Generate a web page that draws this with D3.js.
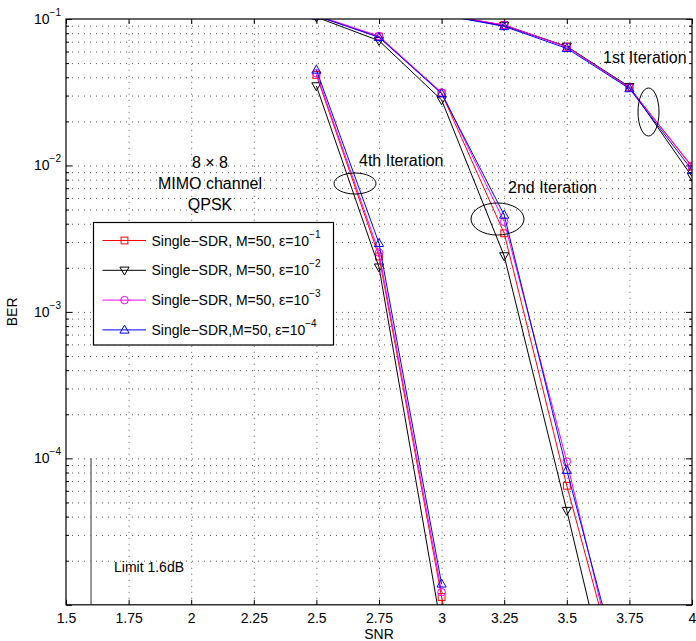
<!DOCTYPE html>
<html>
<head>
<meta charset="utf-8">
<script src="https://cdn.jsdelivr.net/npm/d3@7/dist/d3.min.js"></script>
<style>
  body { margin: 0; background: #fff; }
  svg { display: block; font-family: "Liberation Sans", Arial, sans-serif; }
</style>
</head>
<body>
<script>
// SNR grid where the simulations were run
var snr = [2.5, 2.75, 3, 3.25, 3.5, 3.75, 4];

// BER per iteration, one array per epsilon (null = no point)
var iter1_e1 = [null, null, 0.107, 0.091, 0.0647, 0.034, 0.0098];
var iter1_e2 = [null, null, 0.107, 0.090, 0.0650, 0.0345, 0.0084];
var iter1_e3 = [null, null, 0.107, 0.091, 0.0645, 0.034, 0.0099];
var iter1_e4 = [null, null, 0.107, 0.089, 0.0630, 0.0335, 0.0093];

var iter2_e1 = [0.105, 0.0757, 0.0311, 0.00344, 6.5e-5, 1.7e-6, null];
var iter2_e2 = [0.103, 0.0711, 0.0280, 0.00241, 4.4e-5, 7e-7, null];
var iter2_e3 = [0.106, 0.0765, 0.0315, 0.00413, 9.5e-5, 1.55e-6, null];
var iter2_e4 = [0.105, 0.0750, 0.0310, 0.00459, 8.3e-5, 2e-6, null];

var iter4_e1 = [0.0415, 0.00239, 1.13e-5, 1e-7, null, null, null];
var iter4_e2 = [0.0349, 0.00202, 6.8e-6, null, null, null, null];
var iter4_e3 = [0.0426, 0.00254, 1.22e-5, null, null, null, null];
var iter4_e4 = [0.0449, 0.00294, 1.39e-5, null, null, null, null];

var legendText = ["Single\u2212SDR, M=50, \u03b5=10", "Single\u2212SDR, M=50, \u03b5=10",
                  "Single\u2212SDR, M=50, \u03b5=10", "Single\u2212SDR,M=50, \u03b5=10"];
var legendExp = ["\u22121", "\u22122", "\u22123", "\u22124"];

var xTicks = [1.5, 1.75, 2, 2.25, 2.5, 2.75, 3, 3.25, 3.5, 3.75, 4];
var yMajor = [1e-5, 1e-4, 1e-3, 1e-2, 1e-1];
var yLabels = [[1e-4, "\u22124"], [1e-3, "\u22123"], [1e-2, "\u22122"], [1e-1, "\u22121"]];

var series = [
  {color: "#ff0000", marker: "square",   lines: [iter1_e1, iter2_e1, iter4_e1]},
  {color: "#000000", marker: "down",     lines: [iter1_e2, iter2_e2, iter4_e2]},
  {color: "#ff00ff", marker: "circle",   lines: [iter1_e3, iter2_e3, iter4_e3]},
  {color: "#0000ff", marker: "up",       lines: [iter1_e4, iter2_e4, iter4_e4]}
];

var outerWidth = 696, outerHeight = 641;
var margin = {top: 19, right: 4, bottom: 36.2, left: 66};
var width = outerWidth - margin.left - margin.right,
    height = outerHeight - margin.top - margin.bottom;

var svg = d3.select("body").append("svg")
    .attr("width", outerWidth)
    .attr("height", outerHeight);

var g = svg.append("g")
    .attr("transform", "translate(" + margin.left + "," + margin.top + ")");

var x = d3.scaleLinear().domain([1.5, 4]).range([0, width]);
var y = d3.scaleLog().domain([1e-5, 1e-1]).range([height, 0]);

var yMinor = [];
for (var k = -5; k < -1; k++) {
  for (var m = 2; m <= 9; m++) yMinor.push(m * Math.pow(10, k));
}

// dotted grid
var gridStyle = function(sel) {
  sel.select(".domain").remove();
  sel.selectAll("line").attr("stroke", "#444").attr("stroke-width", 0.9)
     .attr("stroke-dasharray", "1,5");
};
g.append("g")
  .attr("transform", "translate(0," + height + ")")
  .call(d3.axisBottom(x).tickValues(xTicks.slice(1, -1)).tickSize(-height).tickFormat(""))
  .call(gridStyle);
g.append("g")
  .call(d3.axisLeft(y).tickValues(yMajor.slice(1, -1).concat(yMinor)).tickSize(-width).tickFormat(""))
  .call(gridStyle);

// ticks on all four sides, pointing in
var tickStyle = function(sel) {
  sel.select(".domain").remove();
  sel.selectAll("line").attr("stroke", "#000").attr("stroke-width", 1);
};
var xb = g.append("g")
  .attr("transform", "translate(0," + height + ")")
  .call(d3.axisBottom(x).tickValues(xTicks).tickSize(-5).tickPadding(8.5)
        .tickFormat(function(d) { return d3.format("")(d); }));
xb.call(tickStyle);
xb.selectAll("text").attr("font-size", 14).attr("fill", "#000")
  .attr("font-family", "Liberation Sans, Arial, sans-serif");

g.append("g")
  .call(d3.axisTop(x).tickValues(xTicks).tickSize(-5).tickFormat(""))
  .call(tickStyle);
g.append("g")
  .call(d3.axisLeft(y).tickValues(yMajor).tickSize(-6).tickFormat(""))
  .call(tickStyle);
g.append("g")
  .call(d3.axisLeft(y).tickValues(yMinor).tickSize(-3).tickFormat(""))
  .call(tickStyle);
g.append("g")
  .attr("transform", "translate(" + width + ",0)")
  .call(d3.axisRight(y).tickValues(yMajor).tickSize(-6).tickFormat(""))
  .call(tickStyle);
g.append("g")
  .attr("transform", "translate(" + width + ",0)")
  .call(d3.axisRight(y).tickValues(yMinor).tickSize(-3).tickFormat(""))
  .call(tickStyle);

// y labels as 10^k
yLabels.forEach(function(l) {
  var t = g.append("text")
    .attr("x", -5)
    .attr("y", y(l[0]) + 5)
    .attr("text-anchor", "end")
    .attr("font-size", 14);
  t.append("tspan").text("10");
  t.append("tspan").attr("dy", -8).attr("font-size", 10).text(l[1]);
});

// axis titles
svg.append("text")
  .attr("x", margin.left + x(2.75))
  .attr("y", 639)
  .attr("text-anchor", "middle")
  .attr("font-size", 14)
  .text("SNR");
svg.append("text")
  .attr("transform", "translate(17," + (margin.top + height / 2) + ") rotate(-90)")
  .attr("text-anchor", "middle")
  .attr("font-size", 14)
  .text("BER");

// clip for curves
svg.append("clipPath").attr("id", "plotclip")
  .append("rect").attr("width", width).attr("height", height);
var plot = g.append("g").attr("clip-path", "url(#plotclip)");

// Shannon limit line
plot.append("line")
  .attr("x1", x(1.6)).attr("x2", x(1.6))
  .attr("y1", y(1e-4)).attr("y2", height)
  .attr("stroke", "#777").attr("stroke-width", 1.5);

var line = d3.line()
  .defined(function(d) { return d[1] != null; })
  .x(function(d) { return x(d[0]); })
  .y(function(d) { return y(d[1]); });

function drawMarker(sel, type, color) {
  if (type == "square") {
    sel.append("rect").attr("x", -3.4).attr("y", -3.4).attr("width", 6.8).attr("height", 6.8);
  } else if (type == "circle") {
    sel.append("circle").attr("r", 3.8);
  } else if (type == "up") {
    sel.append("path").attr("d", "M0,-4.8L4.6,3.2L-4.6,3.2Z");
  } else {
    sel.append("path").attr("d", "M0,4.8L4.6,-3.2L-4.6,-3.2Z");
  }
  sel.selectAll("*").attr("fill", "none").attr("stroke", color).attr("stroke-width", 1);
}

series.forEach(function(s) {
  s.lines.forEach(function(vals) {
    var pts = snr.map(function(v, i) { return [v, vals[i]]; });
    plot.append("path")
      .datum(pts)
      .attr("d", line)
      .attr("fill", "none")
      .attr("stroke", s.color)
      .attr("stroke-width", 1);
    pts.filter(function(p) { return p[1] != null; }).forEach(function(p) {
      var mk = plot.append("g")
        .attr("transform", "translate(" + x(p[0]) + "," + y(p[1]) + ")");
      drawMarker(mk, s.marker, s.color);
    });
  });
});

// box
g.append("rect")
  .attr("width", width).attr("height", height)
  .attr("fill", "none").attr("stroke", "#000").attr("stroke-width", 1.2);

// annotations (page coordinates)
function note(px, py, txt, size, anchor) {
  svg.append("text").attr("x", px).attr("y", py)
    .attr("font-size", size).attr("text-anchor", anchor || "start").text(txt);
}
note(603, 63, "1st Iteration", 16);
note(508, 193, "2nd Iteration", 16);
note(359, 166, "4th Iteration", 16);
note(210, 168, "8 \u00d7 8", 16, "middle");
note(210, 189, "MIMO channel", 16, "middle");
note(210, 210, "QPSK", 16, "middle");
note(114, 572, "Limit 1.6dB", 14);

var ellipses = [[648.5, 112, 10.5, 24], [497.5, 219, 26.5, 16], [355, 183.5, 21, 10.5]];
ellipses.forEach(function(e) {
  svg.append("ellipse")
    .attr("cx", e[0]).attr("cy", e[1]).attr("rx", e[2]).attr("ry", e[3])
    .attr("fill", "none").attr("stroke", "#000").attr("stroke-width", 1);
});

// legend
var leg = svg.append("g").attr("transform", "translate(93.5,222.5)");
leg.append("rect").attr("width", 240).attr("height", 122.5)
  .attr("fill", "#fff").attr("stroke", "#000").attr("stroke-width", 1.2);
series.forEach(function(s, i) {
  var ly = 18 + i * 29.8;
  leg.append("line").attr("x1", 9).attr("x2", 52.5).attr("y1", ly).attr("y2", ly)
    .attr("stroke", s.color).attr("stroke-width", 1);
  var mk = leg.append("g").attr("transform", "translate(31," + ly + ")");
  drawMarker(mk, s.marker, s.color);
  var t = leg.append("text").attr("x", 58).attr("y", ly + 5).attr("font-size", 14);
  t.append("tspan").text(legendText[i]);
  t.append("tspan").attr("dy", -8).attr("font-size", 10).text(legendExp[i]);
});
</script>
</body>
</html>
